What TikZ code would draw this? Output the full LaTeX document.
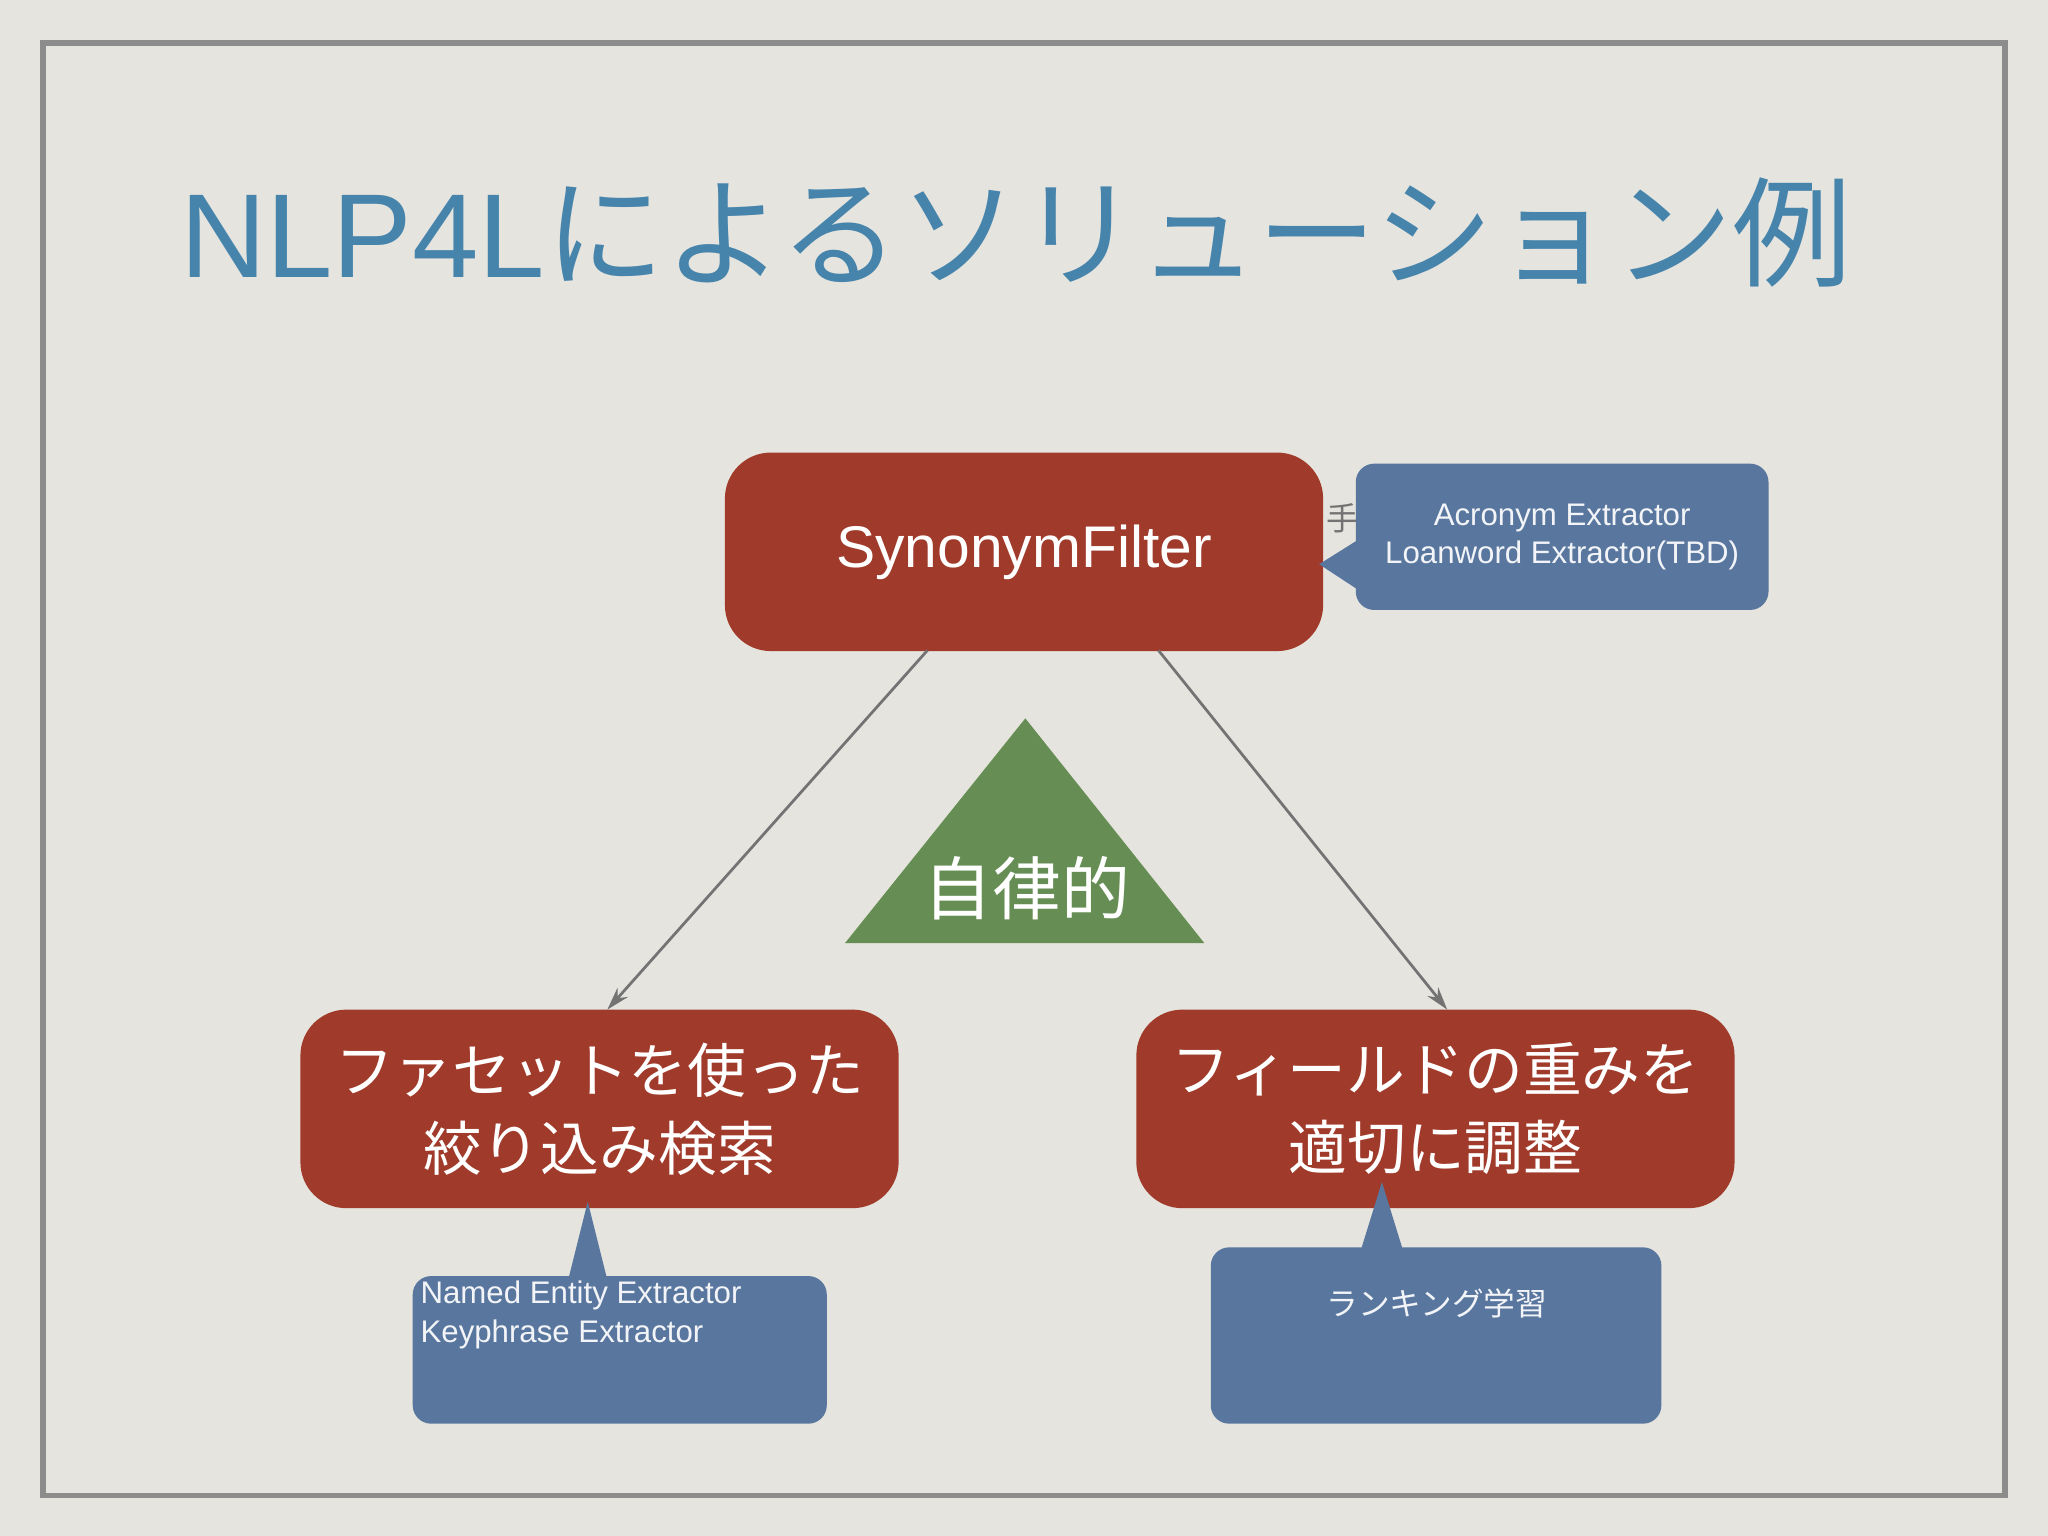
\documentclass[tikz,border=0pt]{standalone}
\usepackage{fontspec}
\setmainfont{Liberation Sans}
\newfontfamily\jp{Noto Sans CJK JP}
\usetikzlibrary{positioning,calc,arrows.meta}
\definecolor{paper}{RGB}{230,228,222}
\definecolor{brick}{RGB}{160,58,42}
\definecolor{slate}{RGB}{88,118,158}
\definecolor{leaf}{RGB}{102,142,84}
\definecolor{titleblue}{RGB}{70,132,172}
\tikzset{
  redbox/.style={rectangle, rounded corners=10pt, fill=brick, text=white, align=center, minimum width=4.58cm, minimum height=1.52cm, inner sep=0pt},
  bluebox/.style={rectangle, rounded corners=4pt, fill=slate, text=white!92!slate, font=\fontsize{6.8pt}{8.4pt}\selectfont, inner sep=0pt},
  link/.style={draw=black!55, line width=0.6pt, -{Stealth[length=5pt,width=3pt]}}
}

\begin{document}
\begin{tikzpicture}
    \fill[paper] (0,0) rectangle (15.68,-11.76);
    \useasboundingbox (0,0) rectangle (15.68,-11.76);
    \draw[black!45, line width=1.2pt] (0.33,-0.33) rectangle (15.35,-11.45);

    \node[text=titleblue, font=\fontsize{26pt}{30pt}\selectfont] (title) at (7.78,-1.78) {NLP4L{\jp によるソリューション例}};

    \node[redbox, font=\fontsize{12.8pt}{15pt}\selectfont] (syn) at (7.84,-4.225) {SynonymFilter};
    \node[redbox, font=\jp\fontsize{12.8pt}{17pt}\selectfont] (facet) at (4.59,-8.49) {ファセットを使った\\絞り込み検索};
    \node[redbox, font=\jp\fontsize{12.8pt}{17pt}\selectfont] (field) at (10.99,-8.49) {フィールドの重みを\\適切に調整};

    % triangle
    \fill[leaf] (7.85,-5.5) -- (9.22,-7.22) -- (6.47,-7.22) -- cycle;
    \node[text=white, font=\jp\fontsize{15pt}{18pt}\selectfont] (auto) at (7.86,-6.8) {自律的};

    \coordinate (synL) at (7.10,-4.98);
    \coordinate (synR) at (8.87,-4.98);
    \coordinate (facetT) at (4.65,-7.73);
    \coordinate (fieldT) at (11.08,-7.73);
    \draw[link] (synL) -- (facetT);
    \draw[link] (synR) -- (fieldT);

    % callouts
    \node[text=black!55, font=\jp\fontsize{7pt}{8pt}\selectfont] (hand) at (10.28,-3.97) {手};
    \fill[slate] (10.10,-4.32) -- (10.45,-4.10) -- (10.45,-4.55) -- cycle;
    \node[bluebox, minimum width=3.16cm, minimum height=1.12cm, align=center] (acr) at (11.96,-4.11) {Acronym Extractor\\Loanword Extractor(TBD)};

    \fill[slate] (4.50,-9.20) -- (4.65,-9.80) -- (4.35,-9.80) -- cycle;
    \node[bluebox, minimum width=3.17cm, minimum height=1.13cm] (ner) at (4.745,-10.335) {};
    \node[bluebox, fill=none, anchor=north west, align=left] (nertxt) at ($(ner.north west)+(0.06,-0.04)$) {Named Entity Extractor\\Keyphrase Extractor};

    \fill[slate] (10.58,-9.05) -- (10.75,-9.60) -- (10.41,-9.60) -- cycle;
    \node[bluebox, minimum width=3.45cm, minimum height=1.35cm] (rank) at (10.995,-10.225) {};
    \node[bluebox, fill=none, font=\jp\fontsize{6.9pt}{8pt}\selectfont] (ranktxt) at (11.0,-9.98) {ランキング学習};
\end{tikzpicture}
\end{document}
